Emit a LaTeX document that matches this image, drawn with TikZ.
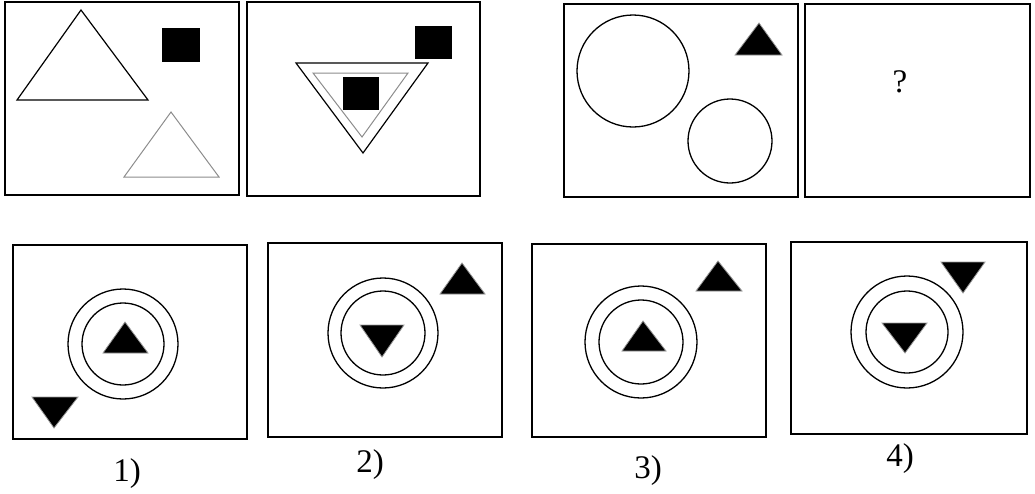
\documentclass[tikz,border=0pt]{standalone}
\usepackage{fontspec}
\setmainfont{Liberation Serif}

\begin{document}
\begin{tikzpicture}[x=1pt,y=-1pt,
  panel/.style={draw=black, line width=1.5pt},
  outline/.style={draw=black, line width=1.2pt},
  faint/.style={draw=black!45, line width=1pt},
  solidfig/.style={fill=black, draw=black!40, line width=0.8pt},
  ring/.style={draw=black, line width=1.3pt},
  caption/.style={font=\fontsize{33}{36}\selectfont}]
\useasboundingbox (0,0) rectangle (1035,493);
% top row
\draw[panel] (5,2) rectangle (239,195);
\draw[outline] (81,10) -- (148,100) -- (17,100) -- cycle;
\fill[black] (162,28) rectangle (200,62);
\draw[faint] (171,112) -- (219,177) -- (124,177) -- cycle;
\draw[panel] (247,2) rectangle (480,196);
\fill[black] (415,26) rectangle (452,59);
\draw[outline] (296,63) -- (428,63) -- (363,153) -- cycle;
\draw[faint] (313,73) -- (408,73) -- (362,137) -- cycle;
\fill[black] (343,77) rectangle (379,110);
\draw[panel] (564,4) rectangle (798,197);
\draw[ring] (633,71) circle (56);
\draw[ring] (730,141) circle (42);
\filldraw[solidfig] (759,23) -- (782,55) -- (735,55) -- cycle;
\draw[panel] (805,4) rectangle (1030,197);
\node[caption] (ask) at (900,82) {?};
% answers
\draw[panel] (13,245) rectangle (247,439);
\draw[ring] (123,344) circle (55);
\draw[ring] (123,344) circle (41);
\filldraw[solidfig] (125,322) -- (148,353) -- (103,353) -- cycle;
\filldraw[solidfig] (32,397) -- (78,397) -- (54,428) -- cycle;
\node[caption] (lab1) at (127,474) {1)};
\draw[panel] (268,243) rectangle (502,437);
\draw[ring] (383,333) circle (55);
\draw[ring] (383,333) circle (42);
\filldraw[solidfig] (360,325) -- (404,325) -- (382,357) -- cycle;
\filldraw[solidfig] (462,263) -- (485,294) -- (440,294) -- cycle;
\node[caption] (lab2) at (370,465) {2)};
\draw[panel] (532,244) rectangle (766,437);
\draw[ring] (641,342) circle (56);
\draw[ring] (641,342) circle (42);
\filldraw[solidfig] (643,321) -- (666,351) -- (622,351) -- cycle;
\filldraw[solidfig] (718,261) -- (742,291) -- (696,291) -- cycle;
\node[caption] (lab3) at (648,471) {3)};
\draw[panel] (791,242) rectangle (1027,434);
\draw[ring] (907,332) circle (56);
\draw[ring] (907,332) circle (41);
\filldraw[solidfig] (882,323) -- (927,323) -- (905,353) -- cycle;
\filldraw[solidfig] (941,262) -- (985,262) -- (963,293) -- cycle;
\node[caption] (lab4) at (900,459) {4)};
\end{tikzpicture}
\end{document}
